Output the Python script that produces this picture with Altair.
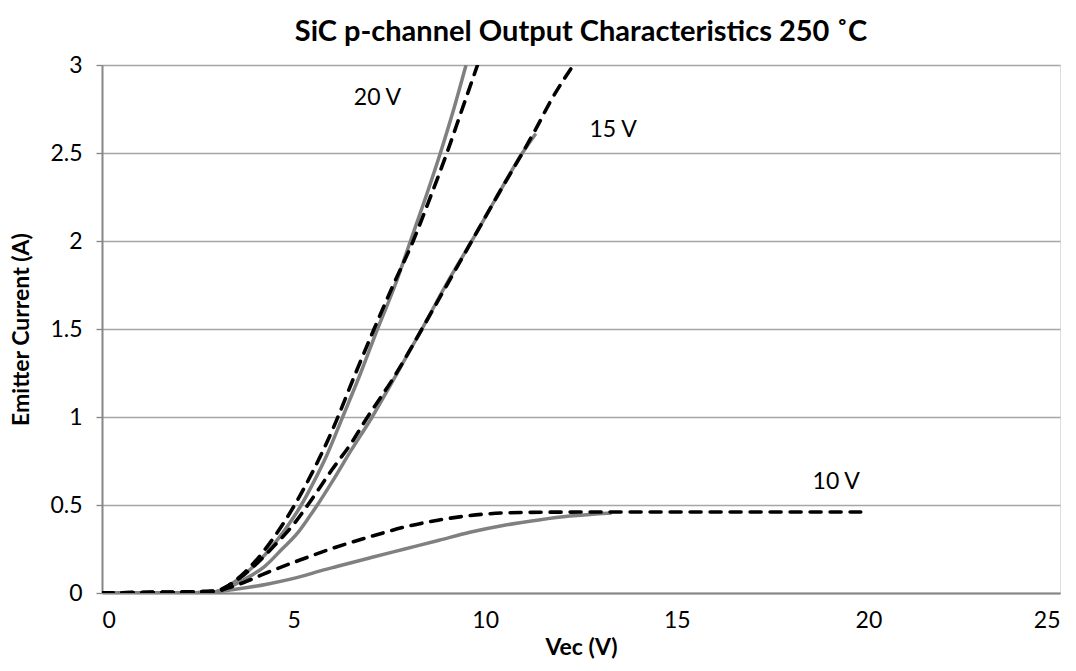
import altair as alt
import pandas as pd

FONT = "Lato"

# ---- data ----
v20_meas_x = [0.2, 1.0, 2.0, 2.9, 3.5, 4.0, 4.5, 5.0, 5.2, 5.5, 5.86, 6.28, 6.75, 7.19, 7.65, 8.05, 8.45, 8.83, 9.18, 9.5]
v20_meas_y = [0.0, 0.0, 0.0, 0.005, 0.07, 0.16, 0.28, 0.43, 0.5, 0.62, 0.78, 1.0, 1.25, 1.5, 1.75, 2.0, 2.25, 2.5, 2.75, 3.0]

v20_model_x = [0.0, 1.0, 2.0, 3.0, 3.5, 4.0, 4.5, 5.0, 5.5, 6.0, 6.62, 7.1, 7.6, 8.12, 8.57, 9.0, 9.4, 9.8]
v20_model_y = [0.0, 0.003, 0.005, 0.01, 0.075, 0.18, 0.32, 0.49, 0.69, 0.92, 1.25, 1.5, 1.75, 2.0, 2.25, 2.5, 2.75, 3.0]

v15_meas_x = [0.2, 1.0, 2.0, 2.9, 3.3, 3.71, 4.24, 4.7, 5.1, 5.4, 5.62, 6.0, 6.5, 7.05, 7.6, 8.35, 9.0, 9.65, 10.3, 10.97, 11.32]
v15_meas_y = [0.0, 0.0, 0.0, 0.005, 0.03, 0.077, 0.15, 0.25, 0.34, 0.43, 0.5, 0.63, 0.81, 1.0, 1.21, 1.5, 1.76, 2.0, 2.25, 2.5, 2.61]

v15_model_x = [0.0, 1.0, 2.0, 2.9, 3.5, 4.0, 4.5, 5.0, 5.37, 6.0, 6.5, 6.93, 7.6, 8.35, 9.0, 9.65, 10.3, 10.97, 11.33, 11.72, 12.24]
v15_model_y = [0.0, 0.003, 0.005, 0.01, 0.07, 0.16, 0.27, 0.39, 0.5, 0.7, 0.85, 1.0, 1.22, 1.5, 1.75, 2.0, 2.25, 2.5, 2.64, 2.8, 2.98]

v10_meas_x = [0.2, 1.0, 2.0, 2.9, 3.44, 4.3, 5.3, 5.6, 6.15, 7.0, 7.9, 8.8, 9.6, 10.5, 11.4, 12.2, 13.3]
v10_meas_y = [0.0, 0.0, 0.0, 0.005, 0.02, 0.05, 0.1, 0.12, 0.152, 0.2, 0.25, 0.3, 0.345, 0.385, 0.415, 0.437, 0.455]

v10_model_x = [0.0, 1.0, 2.0, 2.9, 3.3, 3.7, 4.3, 5.2, 6.1, 7.0, 7.9, 8.8, 9.6, 10.5, 11.5, 13.0, 16.0, 19.8]
v10_model_y = [0.0, 0.003, 0.005, 0.01, 0.03, 0.06, 0.115, 0.19, 0.26, 0.32, 0.375, 0.415, 0.44, 0.455, 0.459, 0.46, 0.46, 0.46]

label_text = ["20 V", "15 V", "10 V"]
label_x = [7.19, 13.34, 19.16]
label_y = [2.81, 2.63, 0.633]

x_ticks = [0, 5, 10, 15, 20, 25]
y_ticks = [0, 0.5, 1, 1.5, 2, 2.5, 3]

# ---- build tables ----
def frame(name, xs, ys):
    return pd.DataFrame({"series": name, "x": xs, "y": ys, "order": range(len(xs))})

meas = pd.concat([
    frame("20 V meas", v20_meas_x, v20_meas_y),
    frame("15 V meas", v15_meas_x, v15_meas_y),
    frame("10 V meas", v10_meas_x, v10_meas_y),
])
model = pd.concat([
    frame("20 V model", v20_model_x, v20_model_y),
    frame("15 V model", v15_model_x, v15_model_y),
    frame("10 V model", v10_model_x, v10_model_y),
])
labels = pd.DataFrame({"text": label_text, "x": label_x, "y": label_y})

xscale = alt.Scale(domain=[0, 25], nice=False, zero=False)
yscale = alt.Scale(domain=[0, 3], nice=False)

xaxis = alt.Axis(
    values=x_ticks, title="Vec (V)", grid=False,
    labelFontSize=23, labelFont=FONT, labelColor="#000000", labelPadding=16,
    titleFontSize=23, titleFont=FONT, titleFontWeight="bold", titleColor="#000000", titlePadding=4,
    domainColor="#868686", domainWidth=2, ticks=False,
)
yaxis = alt.Axis(
    values=y_ticks, format="~g", title="Emitter Current (A)", grid=True,
    gridColor="#A6A6A6", gridWidth=1.3,
    labelFontSize=23, labelFont=FONT, labelColor="#000000", labelPadding=14,
    titleFontSize=23, titleFont=FONT, titleFontWeight="bold", titleColor="#000000", titlePadding=16,
    domainColor="#868686", domainWidth=2, tickColor="#868686", tickSize=6, tickWidth=1.3,
)

meas_layer = alt.Chart(meas).mark_line(
    color="#808080", strokeWidth=3.5, interpolate="monotone", clip=True
).encode(
    x=alt.X("x:Q", scale=xscale, axis=xaxis),
    y=alt.Y("y:Q", scale=yscale, axis=yaxis),
    detail="series:N",
    order="order:Q",
)

model_layer = alt.Chart(model).mark_line(
    color="#000000", strokeWidth=3.6, strokeDash=[11, 9], strokeCap="round",
    interpolate="monotone", clip=True
).encode(
    x=alt.X("x:Q", scale=xscale),
    y=alt.Y("y:Q", scale=yscale),
    detail="series:N",
    order="order:Q",
)

text_layer = alt.Chart(labels).mark_text(
    font=FONT, fontSize=23, color="#000000", align="center", baseline="middle"
).encode(
    x=alt.X("x:Q", scale=xscale),
    y=alt.Y("y:Q", scale=yscale),
    text="text:N",
)

chart = alt.layer(meas_layer, model_layer, text_layer).properties(
    width=958,
    height=528,
    title=alt.TitleParams(
        "SiC p-channel Output Characteristics 250 ˚C",
        font=FONT, fontSize=29, fontWeight="bold", color="#000000",
        anchor="middle", offset=7,
    ),
    padding={"left": 102, "top": 65, "right": 16, "bottom": 78},
    autosize=alt.AutoSizeParams(type="none"),
).configure_view(
    stroke="#000000", strokeWidth=1.2
).configure(background="#ffffff")

chart.save("out.html", embed_options={"renderer": "svg", "actions": False})
